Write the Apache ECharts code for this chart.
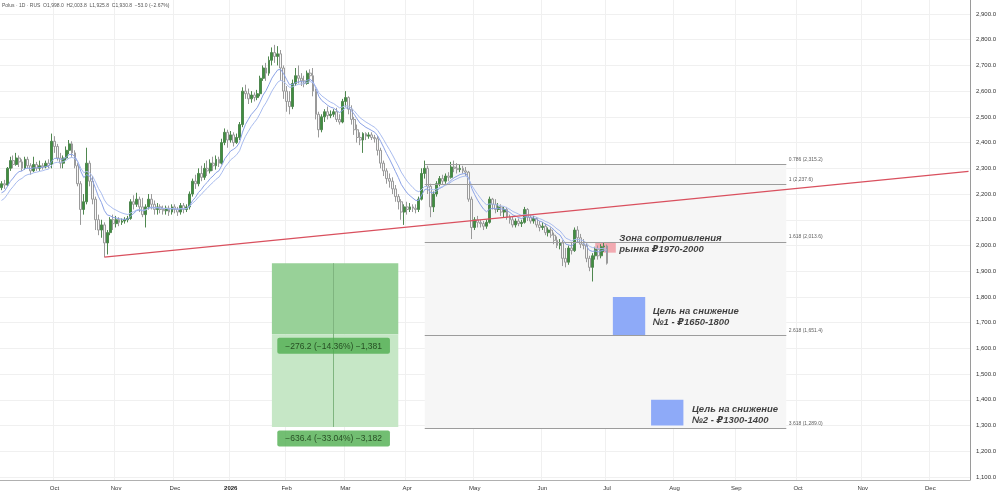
<!DOCTYPE html>
<html><head><meta charset="utf-8">
<script src="https://cdn.jsdelivr.net/npm/echarts@6/dist/echarts.min.js"></script>
<style>html,body{margin:0;padding:0;background:#fff}#c{width:1000px;height:493px}</style>
</head><body><div id="c"></div>
<script>
// ---- data ----
const headerText = 'Polus · 1D · RUS  O1,998.0  H2,003.8  L1,925.8  C1,930.8  −53.0 (−2.67%)';
// daily candles [open, close, low, high]
const candles = [
[2225,2240,2215,2250],[2240,2235,2220,2255],[2235,2300,2230,2305],[2300,2330,2290,2345],[2330,2315,2300,2350],
[2315,2340,2310,2360],[2340,2325,2305,2350],[2325,2300,2290,2335],[2300,2335,2295,2345],[2335,2310,2300,2345],
[2310,2290,2275,2320],[2290,2315,2285,2345],[2315,2300,2290,2325],[2300,2310,2290,2330],[2310,2305,2295,2320],
[2305,2320,2300,2330],[2320,2310,2300,2335],[2315,2405,2300,2435],[2405,2385,2360,2425],[2385,2340,2330,2395],
[2340,2320,2300,2360],[2320,2340,2300,2350],[2340,2370,2330,2385],[2370,2395,2355,2410],[2395,2360,2345,2405],
[2360,2310,2300,2370],[2310,2240,2230,2320],[2240,2140,2080,2250],[2140,2170,2120,2200],[2170,2320,2160,2380],
[2320,2250,2230,2330],[2250,2180,2160,2270],[2180,2100,2060,2190],[2100,2060,2040,2120],[2060,2080,2030,2100],
[2080,2010,1955,2090],[2010,2050,1965,2060],[2050,2100,2040,2110],[2100,2085,2060,2120],[2085,2100,2070,2115],
[2100,2090,2075,2110],[2090,2095,2080,2105],[2095,2100,2085,2110],[2100,2105,2090,2115],[2105,2170,2100,2180],
[2170,2160,2140,2195],[2160,2180,2150,2205],[2180,2150,2130,2190],[2150,2120,2110,2185],[2120,2150,2070,2160],
[2150,2180,2140,2200],[2180,2160,2140,2200],[2160,2140,2120,2175],[2140,2150,2120,2165],[2150,2140,2125,2160],
[2140,2135,2120,2155],[2135,2145,2120,2155],[2145,2130,2115,2155],[2130,2150,2120,2160],[2150,2140,2125,2160],
[2140,2130,2115,2150],[2130,2155,2120,2165],[2155,2140,2125,2165],[2140,2150,2130,2160],[2150,2200,2140,2210],
[2200,2250,2190,2260],[2250,2240,2220,2275],[2240,2280,2230,2300],[2280,2265,2250,2310],[2265,2300,2255,2320],
[2300,2290,2270,2330],[2290,2320,2280,2335],[2320,2310,2290,2345],[2310,2335,2295,2350],[2335,2320,2305,2345],
[2320,2400,2315,2415],[2400,2440,2390,2455],[2440,2410,2380,2450],[2410,2430,2400,2445],[2430,2400,2385,2440],
[2400,2420,2395,2435],[2420,2470,2410,2480],[2470,2600,2460,2615],[2600,2590,2570,2625],[2590,2570,2550,2610],
[2570,2585,2555,2600],[2585,2575,2560,2595],[2575,2590,2565,2605],[2590,2650,2580,2660],[2650,2690,2640,2700],
[2690,2670,2640,2710],[2670,2720,2660,2735],[2720,2750,2700,2770],[2750,2735,2710,2780],[2735,2745,2700,2775],
[2745,2690,2640,2760],[2690,2600,2570,2700],[2600,2560,2520,2620],[2560,2540,2510,2600],[2540,2630,2530,2645],
[2630,2660,2620,2690],[2660,2650,2630,2700],[2650,2640,2620,2670],[2640,2630,2615,2660],[2630,2670,2625,2680],
[2670,2660,2640,2685],[2660,2600,2580,2690],[2600,2510,2490,2610],[2510,2450,2420,2520],[2450,2500,2440,2510],
[2500,2520,2480,2530],[2520,2505,2490,2540],[2505,2510,2495,2525],[2510,2520,2500,2530],[2520,2490,2480,2535],
[2490,2480,2470,2510],[2480,2560,2475,2570],[2560,2575,2540,2600],[2575,2530,2510,2580],[2530,2490,2470,2545],
[2490,2450,2430,2500],[2450,2420,2400,2470],[2420,2410,2390,2440],[2410,2435,2360,2440],[2435,2425,2410,2440],
[2425,2430,2415,2440],[2430,2420,2410,2440],[2420,2415,2400,2430],[2415,2370,2350,2425],[2370,2320,2300,2380],
[2320,2290,2270,2330],[2290,2260,2240,2300],[2260,2250,2225,2280],[2250,2220,2200,2265],[2220,2190,2170,2235],
[2190,2170,2140,2200],[2170,2130,2100,2180],[2130,2150,2080,2160],[2150,2140,2120,2170],[2140,2150,2130,2165],
[2150,2145,2130,2160],[2145,2140,2125,2160],[2140,2180,2130,2190],[2180,2280,2175,2300],[2280,2300,2260,2330],
[2300,2230,2200,2310],[2230,2150,2110,2240],[2150,2200,2130,2210],[2200,2240,2190,2250],[2240,2260,2230,2270],
[2260,2250,2235,2275],[2250,2270,2240,2280],[2270,2265,2250,2285],[2265,2305,2260,2325],[2305,2300,2285,2330],
[2300,2295,2280,2320],[2295,2300,2285,2315],[2300,2290,2280,2310],[2290,2285,2270,2305],[2285,2180,2170,2290],
[2180,2070,2025,2190],[2070,2100,2060,2110],[2100,2090,2070,2115],[2090,2085,2070,2100],[2085,2075,2060,2095],
[2075,2090,2065,2100],[2090,2180,2085,2190],[2180,2160,2140,2185],[2160,2140,2125,2180],[2140,2150,2130,2165],
[2150,2130,2115,2160],[2130,2140,2110,2150],[2140,2110,2100,2150],[2110,2100,2085,2120],[2100,2080,2070,2115],
[2080,2095,2070,2105],[2095,2085,2075,2105],[2085,2090,2072,2100],[2090,2140,2085,2150],[2140,2110,2095,2145],
[2110,2095,2085,2120],[2095,2105,2085,2115],[2105,2080,2070,2110],[2080,2070,2055,2095],[2070,2075,2060,2090],
[2075,2050,2040,2085],[2050,2060,2035,2070],[2060,2040,2030,2070],[2040,2020,2005,2050],[2020,2000,1990,2035],
[2000,2010,1985,2025],[2010,1950,1920,2020],[1950,1935,1915,1990],[1935,1990,1925,2000],[1990,1980,1965,2010],
[1980,2060,1975,2070],[2060,2030,2010,2075],[2030,2005,1990,2045],[2005,2000,1985,2025],[2000,1950,1935,2010],
[1950,1915,1900,1960],[1915,1960,1860,1970],[1960,1985,1945,1995],[1985,1960,1945,2000],[1960,1995,1950,2005],
[1995,1998,1975,2010],[1998,1930.8,1925.8,2003.8]
];
const slotCount = 330;                 // trading-day slots shown on the time axis
const monthLabels = ['Oct','Nov','Dec','2026','Feb','Mar','Apr','May','Jun','Jul','Aug','Sep','Oct','Nov','Dec'];
const monthSlots  = [18,39,59,78,97,117,138,161,184,206,229,250,271,293,316];
const priceTicks = [1100,1200,1300,1400,1500,1600,1700,1800,1900,2000,2100,2200,2300,2400,2500,2600,2700,2800,2900];
const priceMin = 1088.2, priceMax = 2954.4;
const emaPeriods = [9, 14];
const emaSeeds = [2196, 2165];
const trendLine = [[35, 1955], [329, 2288]];
const fibLevels = ['0.786', '1', '1.618', '2.618', '3.618'];
const fibPrices = [2315.2, 2237.6, 2013.6, 1651.4, 1289.0];
const fibRange = [144, 267];
const measureRange = [92, 135];
const measureMid = 113;
const measureTop = 1930.8;
const measureLevels = [1654.6, 1294.4];
const measureTexts = ['−276.2 (−14.36%) −1,381', '−636.4 (−33.04%) −3,182'];
const resistZone = [202, 209, 2012, 1972];
const target1 = [208, 219, 1800, 1650];
const target2 = [221, 232, 1400, 1300];
const noteResist = ['Зона сопротивления', 'рынка ₽1970-2000'];
const noteT1 = ['Цель на снижение', '№1 - ₽1650-1800'];
const noteT2 = ['Цель на снижение', '№2 - ₽1300-1400'];
const noteAnchors = [[209, 2007], [219, 1722], [232, 1343]];

// ---- derived ----
const categories = Array.from({length: slotCount}, (_, i) => String(i));
function ema(period, seed) {
  const a = 2 / (period + 1); let e = seed;
  return candles.map(r => { e = e + a * (r[1] - e); return +e.toFixed(1); });
}
const emaA = ema(emaPeriods[0], emaSeeds[0]);
const emaB = ema(emaPeriods[1], emaSeeds[1]);
const fmtPrice = v => v.toLocaleString('en-US', {minimumFractionDigits: 1, maximumFractionDigits: 1});

const FONT = 'Liberation Sans, DejaVu Sans, sans-serif';
const noteStyle = {fontFamily: FONT, fontSize: 9.5, fontWeight: 'bold', fontStyle: 'italic', color: '#111', lineHeight: 11};

const chart = echarts.init(document.getElementById('c'), null, {renderer: 'canvas'});
chart.setOption({
  animation: false,
  backgroundColor: '#ffffff',
  title: {text: headerText, left: 2, top: 3, padding: 0, textStyle: {fontFamily: FONT, fontSize: 5, fontWeight: 'normal', color: '#555'}},
  grid: {left: 0, right: 30, top: 0, bottom: 13},
  xAxis: {
    type: 'category', data: categories, boundaryGap: true,
    axisLine: {show: true, lineStyle: {color: '#b0b0b0'}},
    axisTick: {show: false},
    axisLabel: {
      interval: (i) => monthSlots.includes(i), margin: 5,
      fontFamily: FONT, fontSize: 6, color: '#333',
      formatter: (v, i) => { const j = monthSlots.indexOf(+v); const t = j >= 0 ? monthLabels[j] : ''; return t === '2026' ? '{b|2026}' : t; },
      rich: {b: {fontFamily: FONT, fontSize: 6, fontWeight: 'bold', color: '#222'}}
    },
    splitLine: {show: true, interval: (i) => monthSlots.includes(i), lineStyle: {color: '#f0f0f0', width: 1}}
  },
  yAxis: {
    type: 'value', position: 'right', min: priceMin, max: priceMax, scale: true,
    axisLine: {show: true, lineStyle: {color: '#9a9a9a'}},
    axisTick: {show: false, customValues: priceTicks},
    axisLabel: {customValues: priceTicks, formatter: v => fmtPrice(v), fontFamily: FONT, fontSize: 6, color: '#333', margin: 6},
    splitLine: {show: true, lineStyle: {color: '#f0f0f0', width: 1}}
  },
  series: [
    { // fib background + levels
      type: 'line', data: [], z: 1, silent: true,
      markArea: {silent: true, itemStyle: {color: '#f6f6f6'},
        data: [[{coord: [fibRange[0], fibPrices[0]]}, {coord: [fibRange[1], fibPrices[fibPrices.length - 1]]}]]},
      markLine: {silent: true, symbol: 'none', label: {show: false},
        lineStyle: {color: '#9c9c9c', width: 1, type: 'solid'},
        data: fibPrices.map(p => [{coord: [fibRange[0], p]}, {coord: [fibRange[1], p]}])}
    },
    { // measurement tool
      type: 'line', data: [], z: 1, silent: true,
      markArea: {silent: true,
        data: [
          [{coord: [measureRange[0], measureTop], itemStyle: {color: '#98d198'}}, {coord: [measureRange[1], measureLevels[0]]}],
          [{coord: [measureRange[0], measureLevels[0]], itemStyle: {color: '#c6e7c6'}}, {coord: [measureRange[1], measureLevels[1]]}]
        ]},
      markLine: {silent: true, symbol: ['none', 'none'], label: {show: false},
        lineStyle: {color: '#7fb57f', width: 1, type: 'solid'},
        data: [[{coord: [measureMid, measureTop]}, {coord: [measureMid, measureLevels[1]]}]]}
    },
    {
      name: 'Polus', type: 'candlestick', data: candles, z: 3, barWidth: 2.4,
      itemStyle: {color: '#3f8f3f', color0: '#f7f7f7', borderColor: '#4f874f', borderColor0: '#9a9a9a', borderWidth: 1}
    },
    {type: 'line', data: emaA, z: 4, showSymbol: false, symbol: 'none', lineStyle: {color: '#8ba2e6', width: 1}},
    {type: 'line', data: emaB, z: 4, showSymbol: false, symbol: 'none', lineStyle: {color: '#a9bcef', width: 1}},
    { // trendline and zones
      type: 'line', data: [], z: 5, silent: true,
      markLine: {silent: true, symbol: 'none', label: {show: false},
        lineStyle: {color: '#d9505e', width: 1.2, type: 'solid'},
        data: [[{coord: trendLine[0]}, {coord: trendLine[1]}]]},
      markArea: {silent: true,
        data: [
          [{coord: [resistZone[0], resistZone[2]], itemStyle: {color: 'rgba(240,120,132,0.6)'}}, {coord: [resistZone[1], resistZone[3]]}],
          [{coord: [target1[0], target1[2]], itemStyle: {color: '#8eaaf8'}}, {coord: [target1[1], target1[3]]}],
          [{coord: [target2[0], target2[2]], itemStyle: {color: '#8eaaf8'}}, {coord: [target2[1], target2[3]]}]
        ]}
    },
    { // fib labels
      type: 'scatter', z: 6, silent: true, symbolSize: 1, itemStyle: {color: 'transparent'},
      data: fibPrices.map((p, i) => ({value: [fibRange[1], p], name: fibLevels[i] + ' (' + fmtPrice(p) + ')'})),
      label: {show: true, position: 'right', distance: 2, offset: [0, -5], formatter: p => p.name, fontFamily: FONT, fontSize: 5, color: '#333'}
    },
    { // measurement labels
      type: 'scatter', z: 7, silent: true, symbolSize: 1, itemStyle: {color: 'transparent'},
      data: measureLevels.map((p, i) => ({value: [measureMid, p], name: measureTexts[i]})),
      label: {show: true, position: 'bottom', distance: 3, formatter: p => p.name, fontFamily: FONT, fontSize: 8.5, color: '#13300f',
        backgroundColor: '#4fae4f', padding: [4, 8, 3, 8], borderRadius: 2}
    },
    { // notes
      type: 'scatter', z: 8, silent: true, symbolSize: 1, itemStyle: {color: 'transparent'},
      data: [
        {value: noteAnchors[0], name: noteResist.join('\n'), label: {distance: 3}},
        {value: noteAnchors[1], name: noteT1.join('\n'), label: {distance: 7}},
        {value: noteAnchors[2], name: noteT2.join('\n'), label: {distance: 8}}
      ],
      label: Object.assign({show: true, position: 'right', formatter: p => p.name}, noteStyle)
    }
  ]
});
</script>
</body></html>
